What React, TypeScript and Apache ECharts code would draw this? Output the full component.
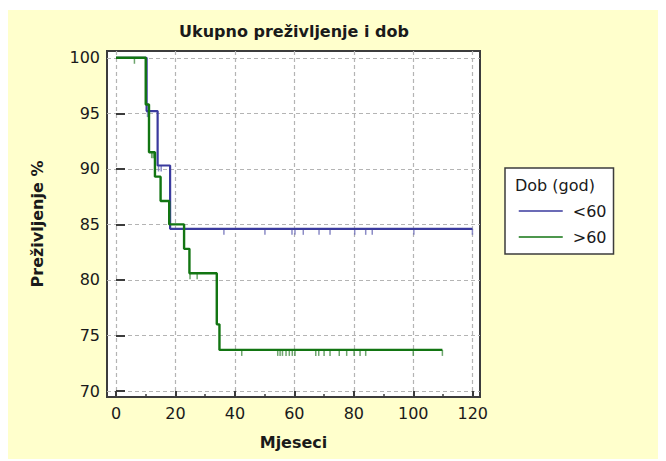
import React, { useEffect, useRef } from "react";
import * as echarts from "echarts";

const FONT = '"DejaVu Sans", "Open Sans", sans-serif';

const xTicks = [0, 20, 40, 60, 80, 100, 120];
const xMinorTicks = [10, 30, 50, 70, 90, 110];
const yTicks = [70, 75, 80, 85, 90, 95, 100];

// <60 group: step times (months) and survival (%) after each step
const blueTimes = [0, 10.3, 14.0, 18.2, 119.9];
const blueSurv = [100, 95.2, 90.3, 84.6, 84.6];
const blueCensorTimes = [10.6, 14.3, 15.2, 36.3, 50.1, 59.2, 60.2, 63.0, 68.3, 72.0, 80.3, 84.0, 86.2, 100.2, 119.9];

// >60 group
const greenTimes = [0, 10.0, 11.1, 13.1, 15.0, 17.9, 22.9, 24.7, 33.9, 34.8, 109.8];
const greenSurv = [100, 95.8, 91.5, 89.3, 87.1, 85.0, 82.8, 80.6, 76.0, 73.7, 73.7];
const greenCensorTimes = [6.2, 12.0, 12.5, 24.9, 27.3, 42.3, 54.4, 55.2, 56.0, 57.2, 58.3, 59.3, 60.2, 67.2, 68.2, 70.0, 72.0, 75.1, 77.6, 80.1, 82.1, 84.0, 100.0, 109.8];

const BLUE = "#3a3a9e";
const GREEN = "#127512";
const BLUE_TICK = "#6e6eb8";
const GREEN_TICK = "#4a904a";

function levelAt(times: number[], surv: number[], t: number): number {
  let v = surv[0];
  for (let i = 0; i < times.length; i++) {
    if (times[i] <= t) v = surv[i];
  }
  return v;
}

export default function App() {
  const ref = useRef<HTMLDivElement>(null);
  useEffect(() => {
    if (!ref.current) return;
    const chart = echarts.init(ref.current, null, { renderer: "svg" });
    const textColor = "#1a1a1a";
    chart.setOption({
      animation: false,
      backgroundColor: "#ffffcc",
      grid: {
        left: 99,
        top: 41,
        width: 373,
        height: 346,
        show: true,
        backgroundColor: "#ffffff",
        borderColor: "#3c3c3c",
        borderWidth: 2,
      },
      xAxis: [
        {
          type: "value",
          min: -3.03,
          max: 122.45,
          position: "bottom",
          axisLine: { show: false },
          axisTick: { show: true, inside: true, length: 6, customValues: xTicks, lineStyle: { color: "#3c3c3c", width: 2 } },
          axisLabel: { customValues: xTicks, margin: 8, fontSize: 16, color: textColor, fontFamily: FONT },
          splitLine: { show: true, lineStyle: { type: [4, 3], color: "#b4b4b4", width: 1.2 } },
          name: "Mjeseci",
          nameLocation: "middle",
          nameGap: 37,
          nameTextStyle: { fontWeight: "bold", fontSize: 16, color: textColor, fontFamily: FONT },
        },
        {
          type: "value",
          min: -3.03,
          max: 122.45,
          position: "bottom",
          axisLine: { show: false },
          axisTick: { show: true, inside: true, length: 3, customValues: xMinorTicks, lineStyle: { color: "#3c3c3c", width: 1.5 } },
          axisLabel: { show: false },
          splitLine: { show: false },
        },
      ],
      yAxis: {
        type: "value",
        min: 69.46,
        max: 100.61,
        axisLine: { show: false },
        axisTick: { show: true, inside: true, length: 9, customValues: yTicks, lineStyle: { color: "#3c3c3c", width: 2 } },
        axisLabel: { customValues: yTicks, margin: 7, fontSize: 16, color: textColor, fontFamily: FONT },
        splitLine: { show: true, lineStyle: { type: [4, 3], color: "#b4b4b4", width: 1.2 } },
        name: "Preživljenje %",
        nameLocation: "middle",
        nameGap: 62,
        nameTextStyle: { fontWeight: "bold", fontSize: 16, color: textColor, fontFamily: FONT },
      },
      legend: {
        data: ["<60", ">60"],
        orient: "vertical",
        left: 497,
        top: 158,
        itemWidth: 44,
        itemHeight: 14,
        itemGap: 10,
        padding: [35, 7, 9, 13],
        backgroundColor: "#ffffff",
        borderColor: "#3c3c3c",
        borderWidth: 1.5,
        itemStyle: { opacity: 0 },
        lineStyle: { width: 1.5 },
        textStyle: { fontSize: 16, color: textColor, fontFamily: FONT, padding: [0, 0, 0, 5] },
      },
      graphic: [
        {
          type: "text",
          x: 286,
          y: 21,
          style: {
            text: "Ukupno preživljenje i dob",
            align: "center",
            verticalAlign: "middle",
            fontSize: 16,
            fontWeight: "bold",
            fontFamily: FONT,
            fill: textColor,
          },
        },
        {
          type: "text",
          x: 507,
          y: 175,
          z: 100,
          style: {
            text: "Dob (god)",
            align: "left",
            verticalAlign: "middle",
            fontSize: 16,
            fontFamily: FONT,
            fill: textColor,
          },
        },
      ],
      series: [
        {
          type: "line",
          name: "<60",
          step: "end",
          symbol: "none",
          data: blueTimes.map((t, i) => [t, blueSurv[i]]),
          lineStyle: { color: BLUE, width: 2.2 },
          itemStyle: { color: BLUE },
        },
        {
          type: "line",
          name: ">60",
          step: "end",
          symbol: "none",
          data: greenTimes.map((t, i) => [t, greenSurv[i]]),
          lineStyle: { color: GREEN, width: 2.4 },
          itemStyle: { color: GREEN },
        },
        {
          type: "scatter",
          name: "<60 censored",
          symbol: "rect",
          symbolSize: [1.5, 6],
          symbolOffset: [0, 3],
          silent: true,
          data: blueCensorTimes.map((t) => [t, levelAt(blueTimes, blueSurv, t)]),
          itemStyle: { color: BLUE_TICK },
        },
        {
          type: "scatter",
          name: ">60 censored",
          symbol: "rect",
          symbolSize: [1.5, 6],
          symbolOffset: [0, 3],
          silent: true,
          data: greenCensorTimes.map((t) => [t, levelAt(greenTimes, greenSurv, t)]),
          itemStyle: { color: GREEN_TICK },
        },
      ],
    });
    return () => chart.dispose();
  }, []);
  return (
    <div
      ref={ref}
      style={{ width: 658, height: 451, position: "relative", top: 2 }}
    />
  );
}
